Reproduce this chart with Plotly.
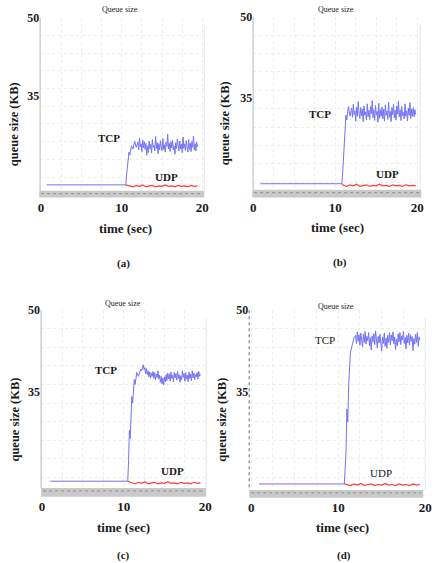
import plotly.graph_objects as go

W, H = 439, 563

# ---------------- data ----------------
x_ticks = [0, 10, 20]
y_ticks = [35, 50]

# shared plateau sample times (sec)
t_plat = [12.0, 12.1, 12.2, 12.3, 12.4, 12.5, 12.6, 12.7, 12.8, 12.9,
          13.0, 13.1, 13.2, 13.3, 13.4, 13.5, 13.6, 13.7, 13.8, 13.9,
          14.0, 14.1, 14.2, 14.3, 14.4, 14.5, 14.6, 14.7, 14.8, 14.9,
          15.0, 15.1, 15.2, 15.3, 15.4, 15.5, 15.6, 15.7, 15.8, 15.9,
          16.0, 16.1, 16.2, 16.3, 16.4, 16.5, 16.6, 16.7, 16.8, 16.9,
          17.0, 17.1, 17.2, 17.3, 17.4, 17.5, 17.6, 17.7, 17.8, 17.9,
          18.0, 18.1, 18.2, 18.3, 18.4, 18.5, 18.6, 18.7, 18.8, 18.9,
          19.0, 19.1, 19.2, 19.3, 19.4]

# panel (a)
ramp_t_a = [0.7, 10.5, 10.6, 10.7, 10.8, 10.9, 11.0, 11.2, 11.4, 11.6, 11.8]
ramp_q_a = [17.9, 17.9, 19.8, 21.5, 23.0, 24.2, 23.6, 25.4, 24.8, 26.3, 25.1]
plat_q_a = [26.1, 24.6, 26.9, 25.2, 25.8, 24.3, 26.5, 25.0, 26.2, 24.7,
            25.9, 23.6, 25.4, 24.1, 26.3, 24.8, 25.7, 24.0, 26.6, 25.1,
            25.5, 24.4, 27.2, 24.9, 26.0, 23.9, 25.8, 24.6, 26.4, 25.2,
            24.5, 26.8, 24.7, 25.6, 24.2, 26.1, 25.3, 27.6, 24.8, 25.9,
            24.3, 26.2, 25.0, 26.5, 24.6, 25.4, 23.8, 26.0, 24.9, 26.7,
            25.1, 24.4, 26.3, 24.8, 25.7, 24.1, 27.1, 24.9, 25.8, 24.5,
            26.4, 25.0, 24.2, 26.6, 24.7, 25.9, 24.3, 26.2, 25.1, 27.3,
            24.6, 25.8, 24.4, 26.1, 25.2]

# panel (b)
ramp_t_b = [0.9, 10.8, 10.9, 11.0, 11.1, 11.2, 11.3, 11.4, 11.6, 11.8]
ramp_q_b = [19.1, 19.1, 21.0, 24.5, 27.8, 29.6, 31.8, 30.9, 33.4, 31.6]
plat_q_b = [33.1, 31.4, 33.8, 31.9, 32.6, 30.7, 33.3, 31.6, 34.3, 32.0,
            31.2, 33.2, 31.7, 32.9, 30.6, 33.5, 31.8, 32.4, 30.9, 33.9,
            31.5, 32.7, 31.0, 33.4, 32.1, 34.5, 31.3, 32.8, 30.8, 33.6,
            31.9, 32.5, 30.5, 34.0, 31.2, 32.8, 31.6, 33.3, 31.1, 32.9,
            30.7, 33.7, 31.8, 32.6, 31.0, 34.2, 31.4, 32.5, 30.6, 33.2,
            31.9, 33.8, 31.3, 32.7, 30.9, 33.5, 32.0, 34.4, 31.5, 32.8,
            30.8, 33.4, 31.7, 32.3, 31.1, 33.9, 31.6, 32.6, 30.7, 33.1,
            31.8, 34.1, 31.2, 32.9, 31.6]
tail_t_b = [19.5, 19.6, 19.7, 19.8]
tail_q_b = [33.2, 31.5, 32.8, 31.9]

# panel (c)
ramp_t_c = [1.0, 10.5, 10.6, 10.7, 10.8, 10.9, 11.0, 11.1, 11.2, 11.3, 11.4, 11.6, 11.8]
ramp_q_c = [18.7, 18.7, 22.5, 28.0, 26.5, 31.5, 34.2, 33.0, 36.0, 37.3, 36.4, 38.6, 37.9]
plat_q_c = [38.6, 39.2, 38.9, 39.6, 40.0, 39.1, 39.5, 38.4, 39.3, 38.2,
            38.9, 37.8, 38.7, 37.6, 38.5, 37.9, 38.8, 37.5, 38.6, 37.3,
            38.3, 37.7, 38.9, 37.4, 38.1, 36.8, 37.9, 36.5, 37.6, 36.3,
            37.8, 36.9, 38.2, 37.1, 38.5, 37.4, 38.3, 37.0, 38.7, 37.5,
            38.1, 36.9, 38.6, 37.6, 38.4, 37.2, 38.8, 37.5, 38.2, 36.8,
            38.0, 37.3, 38.9, 37.7, 38.4, 37.0, 38.6, 37.4, 38.1, 36.9,
            38.7, 37.5, 38.3, 37.1, 38.9, 37.6, 38.5, 37.3, 38.2, 37.8,
            38.6, 37.4, 38.8, 37.9, 38.3]

# panel (d)
ramp_t_d = [0.9, 10.7, 10.8, 10.9, 11.0, 11.1, 11.2, 11.3, 11.4, 11.6, 11.8]
ramp_q_d = [18.2, 18.2, 21.0, 24.1, 31.9, 29.5, 36.0, 39.8, 42.2, 43.5, 44.9]
plat_q_d = [45.4, 43.9, 46.0, 44.3, 45.5, 43.6, 45.8, 44.7, 43.3, 45.6,
            44.1, 46.1, 43.8, 45.2, 44.4, 45.9, 43.5, 45.0, 42.7, 45.3,
            44.2, 45.7, 43.7, 46.2, 44.5, 43.1, 45.2, 44.0, 45.6, 44.3,
            42.5, 45.1, 43.9, 45.8, 43.4, 44.9, 43.0, 45.4, 44.1, 45.9,
            43.6, 45.5, 44.4, 46.0, 43.8, 45.1, 42.8, 44.7, 43.5, 45.7,
            44.2, 45.9, 43.7, 45.3, 44.6, 46.1, 43.9, 45.0, 42.9, 45.4,
            44.0, 45.8, 43.6, 45.5, 44.3, 45.2, 42.6, 44.8, 43.8, 45.6,
            44.1, 45.9, 43.4, 45.1, 44.5]

# UDP queue samples
udp_t = [11.0, 11.4, 11.8, 12.2, 12.6, 13.0, 13.4, 13.8, 14.2, 14.6, 15.0,
         15.4, 15.8, 16.2, 16.6, 17.0, 17.4, 17.8, 18.2, 18.6, 19.0, 19.4]
udp_a = [17.7, 17.5, 17.8, 17.6, 17.9, 17.5, 17.7, 17.8, 17.5, 17.7, 17.6,
         17.9, 17.6, 17.7, 17.5, 17.8, 17.6, 17.7, 17.5, 17.8, 17.6, 17.7]
udp_b = [18.8, 18.6, 18.9, 18.7, 19.0, 18.6, 18.8, 18.9, 18.6, 18.8, 18.7,
         19.0, 18.7, 18.8, 18.6, 18.9, 18.7, 18.8, 18.6, 18.9, 18.7, 18.8]
udp_c = [18.4, 18.2, 18.5, 18.3, 18.6, 18.2, 18.4, 18.5, 18.2, 18.4, 18.3,
         18.6, 18.3, 18.4, 18.2, 18.5, 18.3, 18.4, 18.2, 18.5, 18.3, 18.4]
udp_d = [18.1, 17.9, 18.2, 18.0, 18.3, 17.9, 18.1, 18.2, 17.9, 18.1, 18.0,
         18.3, 18.0, 18.1, 17.9, 18.2, 18.0, 18.1, 17.9, 18.2, 18.0, 18.1]
udp_tail_t_b = [19.8]
udp_tail_q_b = [18.7]

panel_labels = ["(a)", "(b)", "(c)", "(d)"]

# ---------------- layout geometry (pixels) ----------------
def fx(p):
    return p / W


def fy(p):
    return 1 - p / H


panels = [
    dict(name="a", dom_x=(38, 206), dom_y=(11, 193), xr=(-0.121, 20.242), yr=(15.45, 50),
         tcp_t=ramp_t_a + t_plat, tcp_q=ramp_q_a + plat_q_a,
         udp_x=[ramp_t_a[1]] + udp_t, udp_y=[ramp_q_a[1]] + udp_a,
         bar=(37, 206, 186, 193),
         title=(120, 3), tcp=(108, 133), udp=(167, 172), ylab=(11, 119),
         xlab=(125, 224), plab=(123, 260), tcp_bold=True, axis_dash=False),
    dict(name="b", dom_x=(256, 427), dom_y=(10, 193), xr=(0.0, 20.357), yr=(16.53, 50),
         tcp_t=ramp_t_b + t_plat + tail_t_b, tcp_q=ramp_q_b + plat_q_b + tail_q_b,
         udp_x=[ramp_t_b[1]] + udp_t + udp_tail_t_b, udp_y=[ramp_q_b[1]] + udp_b + udp_tail_q_b,
         bar=(255, 428, 185, 193),
         title=(341, 3), tcp=(324, 108), udp=(393, 169), ylab=(227, 118),
         xlab=(342, 223), plab=(345, 259), tcp_bold=True, axis_dash=False),
    dict(name="c", dom_x=(39, 208), dom_y=(307, 496), xr=(-0.12, 20.12), yr=(15.84, 50),
         tcp_t=ramp_t_c + t_plat, tcp_q=ramp_q_c + plat_q_c,
         udp_x=[ramp_t_c[1]] + udp_t, udp_y=[ramp_q_c[1]] + udp_c,
         bar=(39, 208, 487, 496),
         title=(123, 300), tcp=(105, 368), udp=(173, 470), ylab=(12, 418),
         xlab=(123, 527), plab=(123, 555), tcp_bold=True, axis_dash=False),
    dict(name="d", dom_x=(252, 432), dom_y=(307, 497), xr=(-0.225, 20.0), yr=(15.66, 50),
         tcp_t=ramp_t_d + t_plat, tcp_q=ramp_q_d + plat_q_d,
         udp_x=[ramp_t_d[1]] + udp_t, udp_y=[ramp_q_d[1]] + udp_d,
         bar=(252, 430, 489, 497),
         title=(341, 303), tcp=(329, 337), udp=(387, 472), ylab=(224, 418),
         xlab=(347, 527), plab=(349, 555), tcp_bold=False, axis_dash=True),
]

SERIF = "Liberation Serif, Times New Roman, serif"
TCP_COLOR = "#7373f5"
UDP_COLOR = "#ff3a3a"

fig = go.Figure()
layout = dict(width=W, height=H, margin=dict(l=0, r=0, t=0, b=0),
              paper_bgcolor="white", plot_bgcolor="white", showlegend=False)
annotations = []
shapes = []

for i, p in enumerate(panels):
    n = "" if i == 0 else str(i + 1)
    xa, ya = "x" + n, "y" + n
    fig.add_trace(go.Scatter(x=p["tcp_t"], y=p["tcp_q"], mode="lines",
                             line=dict(color=TCP_COLOR, width=1), xaxis=xa, yaxis=ya,
                             hoverinfo="skip"))
    fig.add_trace(go.Scatter(x=p["udp_x"], y=p["udp_y"], mode="lines",
                             line=dict(color=UDP_COLOR, width=1.2), xaxis=xa, yaxis=ya,
                             hoverinfo="skip"))

    layout["xaxis" + n] = dict(
        domain=[fx(p["dom_x"][0]), fx(p["dom_x"][1])], range=list(p["xr"]),
        anchor=ya, tickvals=x_ticks, ticktext=[str(v) for v in x_ticks],
        showline=False, zeroline=False, showgrid=False, ticks="",
        tickfont=dict(family=SERIF, size=13, color="#1a1a1a", weight="bold"),
        minor=dict(dtick=2.5, showgrid=True, gridcolor="#ededed", griddash="dot"),
        fixedrange=True)
    layout["yaxis" + n] = dict(
        domain=[fy(p["dom_y"][1]), fy(p["dom_y"][0])], range=list(p["yr"]),
        anchor=xa, tickvals=y_ticks, ticktext=[str(v) for v in y_ticks],
        showline=False, zeroline=False, showgrid=False, ticks="",
        tickfont=dict(family=SERIF, size=12, color="#1a1a1a", weight="bold"),
        minor=dict(dtick=3.4, tick0=50, showgrid=True, gridcolor="#ededed", griddash="dot"),
        fixedrange=True)

    x0, x1 = p["dom_x"]
    y0, y1 = p["dom_y"]
    # left axis line
    shapes.append(dict(type="line", xref="paper", yref="paper",
                       x0=fx(x0), x1=fx(x0), y0=fy(y0), y1=fy(p["bar"][2]),
                       line=dict(color="#9a9a9a" if p["axis_dash"] else "#cfcfcf",
                                 width=1.5, dash="dot" if p["axis_dash"] else "solid")))
    # right border
    shapes.append(dict(type="line", xref="paper", yref="paper",
                       x0=fx(x1), x1=fx(x1), y0=fy(y0 + 8), y1=fy(p["bar"][2]),
                       line=dict(color="#e6e6e6", width=1)))
    # bottom grey scroll bar
    bx0, bx1, by0, by1 = p["bar"]
    shapes.append(dict(type="rect", xref="paper", yref="paper",
                       x0=fx(bx0), x1=fx(bx1), y0=fy(by1), y1=fy(by0),
                       fillcolor="#c9c9c9", line=dict(width=0)))
    shapes.append(dict(type="line", xref="paper", yref="paper",
                       x0=fx(bx0 + 2), x1=fx(bx1 - 2), y0=fy(by0 + 3), y1=fy(by0 + 3),
                       line=dict(color="#8c8c8c", width=1, dash="dot")))

    def ann(pos, text, size, bold=False, angle=0, color="#1a1a1a"):
        annotations.append(dict(
            xref="paper", yref="paper", x=fx(pos[0]), y=fy(pos[1]),
            xanchor="center", yanchor="middle", showarrow=False, textangle=angle,
            text=("<b>%s</b>" % text) if bold else text,
            font=dict(family=SERIF, size=size, color=color)))

    ann(p["title"], "Queue size", 8, color="#222222")
    ann(p["tcp"], "TCP", 11, bold=p["tcp_bold"])
    ann(p["udp"], "UDP", 11, bold=p["tcp_bold"])
    ann(p["ylab"], "queue size (KB)", 12.5, bold=True, angle=-90)
    ann(p["xlab"], "time (sec)", 13, bold=True)
    ann(p["plab"], panel_labels[i], 11, bold=True)

layout["annotations"] = annotations
layout["shapes"] = shapes
fig.update_layout(**layout)
fig.write_html("out.html")
